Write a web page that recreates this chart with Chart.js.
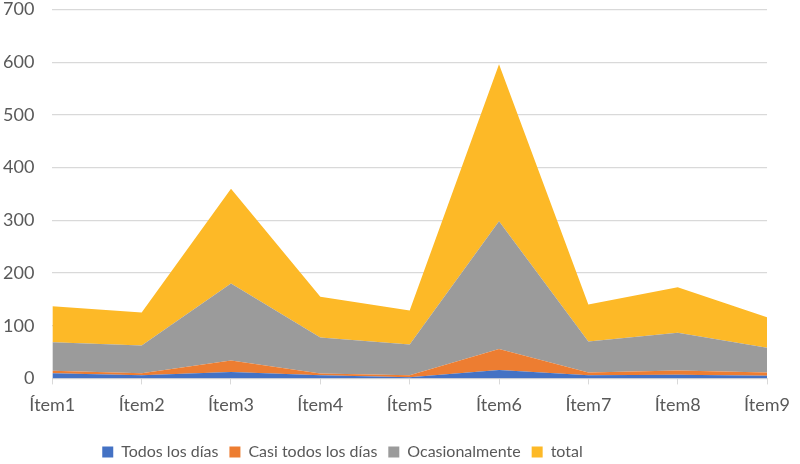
<!DOCTYPE html>
<html>
<head>
<meta charset="utf-8">
<script src="https://cdn.jsdelivr.net/npm/chart.js@4/dist/chart.umd.min.js"></script>
<style>
html,body{margin:0;padding:0;background:#fff;}
#wrap{width:800px;height:464px;position:relative;}
</style>
</head>
<body>
<div id="wrap"><canvas id="c"></canvas></div>
<script>
const categories = ["Ítem1","Ítem2","Ítem3","Ítem4","Ítem5","Ítem6","Ítem7","Ítem8","Ítem9"];
const todosLosDias = [10, 6, 12, 6, 2, 16, 6, 7, 5];
const casiTodosLosDias = [4.5, 4, 22, 3.5, 4, 40, 5, 8, 6];
const ocasionalmente = [54, 52.5, 146, 68, 58.5, 242, 59, 71.5, 47];
const total = [68.5, 62.5, 180, 77.5, 64.5, 298, 70, 86.5, 58];
const yTicks = [0, 100, 200, 300, 400, 500, 600, 700];

const FONT = 'Lato, "Open Sans", sans-serif';
function ds(label, data, color, fill) {
  return {label, data, backgroundColor: color, borderColor: color, borderWidth: 0,
    pointRadius: 0, pointHoverRadius: 0, fill, tension: 0};
}
// Shift the legend block to the position used in the reference
const legendShift = {
  id: 'legendShift',
  afterLayout(chart) {
    const lg = chart.legend;
    if (!lg) return;
    const dx = -57, dy = 7;
    lg.left += dx; lg.right += dx; lg.top += dy; lg.bottom += dy;
  }
};
new Chart(document.getElementById('c'), {
  type: 'line',
  data: {
    labels: categories,
    datasets: [
      ds('Todos los días', todosLosDias, '#4472C4', 'origin'),
      ds('Casi todos los días', casiTodosLosDias, '#ED7D31', '-1'),
      ds('Ocasionalmente', ocasionalmente, '#9B9B9B', '-1'),
      ds('total', total, '#FDB927', '-1')
    ]
  },
  plugins: [legendShift],
  options: {
    responsive: true,
    maintainAspectRatio: false,
    animation: false,
    layout: {padding: {left: 3, right: 4, top: 0, bottom: 1}},
    plugins: {
      legend: {
        position: 'bottom',
        labels: {font: {family: FONT, size: 16}, color: '#595959', boxWidth: 11, boxHeight: 11, padding: 11}
      },
      tooltip: {enabled: false}
    },
    scales: {
      x: {
        stacked: true,
        offset: false,
        grid: {drawOnChartArea: false, drawTicks: true, tickLength: 6, color: '#D9D9D9'},
        border: {color: '#D9D9D9', width: 1},
        ticks: {font: {family: FONT, size: 18}, color: '#595959', padding: 10, maxRotation: 0, autoSkip: false}
      },
      y: {
        stacked: true,
        min: yTicks[0],
        max: yTicks[yTicks.length - 1],
        afterBuildTicks: (s) => { s.ticks = yTicks.map(v => ({value: v})); },
        grid: {color: '#D9D9D9', lineWidth: 1.3, drawTicks: true, tickLength: 18, tickColor: 'rgba(0,0,0,0)'},
        border: {display: false},
        ticks: {font: {family: FONT, size: 18, lineHeight: 1.05}, color: '#595959', padding: 0}
      }
    }
  }
});
</script>
</body>
</html>
